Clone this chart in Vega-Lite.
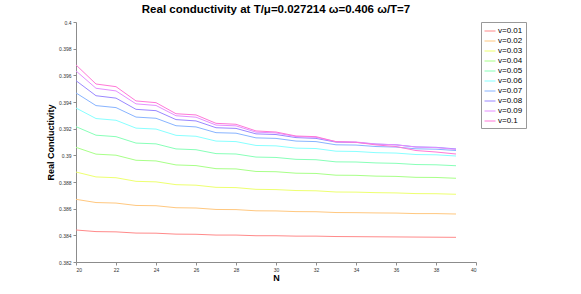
{
  "$schema": "https://vega.github.io/schema/vega-lite/v6.json",
  "width": 400,
  "height": 240,
  "autosize": {"type": "none"},
  "padding": {"left": 76, "top": 22, "right": 105, "bottom": 32},
  "background": "white",
  "config": {
    "font": "Liberation Sans",
    "view": {"stroke": null},
    "axis": {"grid": false, "domainColor": "#8c8c8c", "tickColor": "#8c8c8c", "tickSize": 3, "labelFontSize": 5, "labelColor": "#333", "titleFontWeight": "bold", "titleColor": "#000"}
  },
  "title": {"text": "Real conductivity at T/μ=0.027214 ω=0.406 ω/T=7", "fontSize": 11.5, "fontWeight": "bold", "font": "Liberation Sans", "color": "#000", "offset": 5, "anchor": "middle"},
  "data": {"values": [
    {"N":20,"v":"v=0.01","y":0.38440},{"N":21,"v":"v=0.01","y":0.38428},{"N":22,"v":"v=0.01","y":0.38426},{"N":23,"v":"v=0.01","y":0.38417},{"N":24,"v":"v=0.01","y":0.38416},{"N":25,"v":"v=0.01","y":0.38409},{"N":26,"v":"v=0.01","y":0.38408},{"N":27,"v":"v=0.01","y":0.38402},{"N":28,"v":"v=0.01","y":0.38402},{"N":29,"v":"v=0.01","y":0.38397},{"N":30,"v":"v=0.01","y":0.38397},{"N":31,"v":"v=0.01","y":0.38394},{"N":32,"v":"v=0.01","y":0.38394},{"N":33,"v":"v=0.01","y":0.38391},{"N":34,"v":"v=0.01","y":0.38390},{"N":35,"v":"v=0.01","y":0.38389},{"N":36,"v":"v=0.01","y":0.38388},{"N":37,"v":"v=0.01","y":0.38387},{"N":38,"v":"v=0.01","y":0.38386},{"N":39,"v":"v=0.01","y":0.38385},
    {"N":20,"v":"v=0.02","y":0.38670},{"N":21,"v":"v=0.02","y":0.38646},{"N":22,"v":"v=0.02","y":0.38642},{"N":23,"v":"v=0.02","y":0.38624},{"N":24,"v":"v=0.02","y":0.38622},{"N":25,"v":"v=0.02","y":0.38607},{"N":26,"v":"v=0.02","y":0.38605},{"N":27,"v":"v=0.02","y":0.38594},{"N":28,"v":"v=0.02","y":0.38593},{"N":29,"v":"v=0.02","y":0.38584},{"N":30,"v":"v=0.02","y":0.38583},{"N":31,"v":"v=0.02","y":0.38578},{"N":32,"v":"v=0.02","y":0.38577},{"N":33,"v":"v=0.02","y":0.38571},{"N":34,"v":"v=0.02","y":0.38570},{"N":35,"v":"v=0.02","y":0.38568},{"N":36,"v":"v=0.02","y":0.38567},{"N":37,"v":"v=0.02","y":0.38563},{"N":38,"v":"v=0.02","y":0.38563},{"N":39,"v":"v=0.02","y":0.38560},
    {"N":20,"v":"v=0.03","y":0.38875},{"N":21,"v":"v=0.03","y":0.38838},{"N":22,"v":"v=0.03","y":0.38832},{"N":23,"v":"v=0.03","y":0.38805},{"N":24,"v":"v=0.03","y":0.38801},{"N":25,"v":"v=0.03","y":0.38780},{"N":26,"v":"v=0.03","y":0.38776},{"N":27,"v":"v=0.03","y":0.38760},{"N":28,"v":"v=0.03","y":0.38758},{"N":29,"v":"v=0.03","y":0.38745},{"N":30,"v":"v=0.03","y":0.38743},{"N":31,"v":"v=0.03","y":0.38736},{"N":32,"v":"v=0.03","y":0.38734},{"N":33,"v":"v=0.03","y":0.38725},{"N":34,"v":"v=0.03","y":0.38724},{"N":35,"v":"v=0.03","y":0.38720},{"N":36,"v":"v=0.03","y":0.38718},{"N":37,"v":"v=0.03","y":0.38713},{"N":38,"v":"v=0.03","y":0.38712},{"N":39,"v":"v=0.03","y":0.38708},
    {"N":20,"v":"v=0.04","y":0.39060},{"N":21,"v":"v=0.04","y":0.39009},{"N":22,"v":"v=0.04","y":0.39001},{"N":23,"v":"v=0.04","y":0.38963},{"N":24,"v":"v=0.04","y":0.38958},{"N":25,"v":"v=0.04","y":0.38928},{"N":26,"v":"v=0.04","y":0.38923},{"N":27,"v":"v=0.04","y":0.38900},{"N":28,"v":"v=0.04","y":0.38898},{"N":29,"v":"v=0.04","y":0.38879},{"N":30,"v":"v=0.04","y":0.38877},{"N":31,"v":"v=0.04","y":0.38866},{"N":32,"v":"v=0.04","y":0.38864},{"N":33,"v":"v=0.04","y":0.38851},{"N":34,"v":"v=0.04","y":0.38850},{"N":35,"v":"v=0.04","y":0.38844},{"N":36,"v":"v=0.04","y":0.38842},{"N":37,"v":"v=0.04","y":0.38835},{"N":38,"v":"v=0.04","y":0.38834},{"N":39,"v":"v=0.04","y":0.38828},
    {"N":20,"v":"v=0.05","y":0.39215},{"N":21,"v":"v=0.05","y":0.39151},{"N":22,"v":"v=0.05","y":0.39140},{"N":23,"v":"v=0.05","y":0.39092},{"N":24,"v":"v=0.05","y":0.39086},{"N":25,"v":"v=0.05","y":0.39048},{"N":26,"v":"v=0.05","y":0.39042},{"N":27,"v":"v=0.05","y":0.39013},{"N":28,"v":"v=0.05","y":0.39010},{"N":29,"v":"v=0.05","y":0.38987},{"N":30,"v":"v=0.05","y":0.38984},{"N":31,"v":"v=0.05","y":0.38970},{"N":32,"v":"v=0.05","y":0.38967},{"N":33,"v":"v=0.05","y":0.38951},{"N":34,"v":"v=0.05","y":0.38950},{"N":35,"v":"v=0.05","y":0.38943},{"N":36,"v":"v=0.05","y":0.38940},{"N":37,"v":"v=0.05","y":0.38931},{"N":38,"v":"v=0.05","y":0.38929},{"N":39,"v":"v=0.05","y":0.38922},
    {"N":20,"v":"v=0.06","y":0.39355},{"N":21,"v":"v=0.06","y":0.39276},{"N":22,"v":"v=0.06","y":0.39263},{"N":23,"v":"v=0.06","y":0.39204},{"N":24,"v":"v=0.06","y":0.39197},{"N":25,"v":"v=0.06","y":0.39150},{"N":26,"v":"v=0.06","y":0.39143},{"N":27,"v":"v=0.06","y":0.39107},{"N":28,"v":"v=0.06","y":0.39103},{"N":29,"v":"v=0.06","y":0.39074},{"N":30,"v":"v=0.06","y":0.39071},{"N":31,"v":"v=0.06","y":0.39054},{"N":32,"v":"v=0.06","y":0.39051},{"N":33,"v":"v=0.06","y":0.39031},{"N":34,"v":"v=0.06","y":0.39029},{"N":35,"v":"v=0.06","y":0.39020},{"N":36,"v":"v=0.06","y":0.39017},{"N":37,"v":"v=0.06","y":0.39006},{"N":38,"v":"v=0.06","y":0.39004},{"N":39,"v":"v=0.06","y":0.38995},
    {"N":20,"v":"v=0.07","y":0.39468},{"N":21,"v":"v=0.07","y":0.39373},{"N":22,"v":"v=0.07","y":0.39358},{"N":23,"v":"v=0.07","y":0.39287},{"N":24,"v":"v=0.07","y":0.39278},{"N":25,"v":"v=0.07","y":0.39222},{"N":26,"v":"v=0.07","y":0.39213},{"N":27,"v":"v=0.07","y":0.39170},{"N":28,"v":"v=0.07","y":0.39166},{"N":29,"v":"v=0.07","y":0.39131},{"N":30,"v":"v=0.07","y":0.39127},{"N":31,"v":"v=0.07","y":0.39107},{"N":32,"v":"v=0.07","y":0.39103},{"N":33,"v":"v=0.07","y":0.39079},{"N":34,"v":"v=0.07","y":0.39077},{"N":35,"v":"v=0.07","y":0.39066},{"N":36,"v":"v=0.07","y":0.39062},{"N":37,"v":"v=0.07","y":0.39049},{"N":38,"v":"v=0.07","y":0.39046},{"N":39,"v":"v=0.07","y":0.39036},
    {"N":20,"v":"v=0.08","y":0.39560},{"N":21,"v":"v=0.08","y":0.39447},{"N":22,"v":"v=0.08","y":0.39429},{"N":23,"v":"v=0.08","y":0.39345},{"N":24,"v":"v=0.08","y":0.39335},{"N":25,"v":"v=0.08","y":0.39268},{"N":26,"v":"v=0.08","y":0.39258},{"N":27,"v":"v=0.08","y":0.39207},{"N":28,"v":"v=0.08","y":0.39202},{"N":29,"v":"v=0.08","y":0.39161},{"N":30,"v":"v=0.08","y":0.39156},{"N":31,"v":"v=0.08","y":0.39133},{"N":32,"v":"v=0.08","y":0.39127},{"N":33,"v":"v=0.08","y":0.39099},{"N":34,"v":"v=0.08","y":0.39097},{"N":35,"v":"v=0.08","y":0.39084},{"N":36,"v":"v=0.08","y":0.39079},{"N":37,"v":"v=0.08","y":0.39063},{"N":38,"v":"v=0.08","y":0.39060},{"N":39,"v":"v=0.08","y":0.39048},
    {"N":20,"v":"v=0.09","y":0.39633},{"N":21,"v":"v=0.09","y":0.39503},{"N":22,"v":"v=0.09","y":0.39483},{"N":23,"v":"v=0.09","y":0.39386},{"N":24,"v":"v=0.09","y":0.39374},{"N":25,"v":"v=0.09","y":0.39297},{"N":26,"v":"v=0.09","y":0.39286},{"N":27,"v":"v=0.09","y":0.39227},{"N":28,"v":"v=0.09","y":0.39221},{"N":29,"v":"v=0.09","y":0.39174},{"N":30,"v":"v=0.09","y":0.39168},{"N":31,"v":"v=0.09","y":0.39141},{"N":32,"v":"v=0.09","y":0.39135},{"N":33,"v":"v=0.09","y":0.39103},{"N":34,"v":"v=0.09","y":0.39100},{"N":35,"v":"v=0.09","y":0.39085},{"N":36,"v":"v=0.09","y":0.39079},{"N":37,"v":"v=0.09","y":0.39062},{"N":38,"v":"v=0.09","y":0.39058},{"N":39,"v":"v=0.09","y":0.39044},
    {"N":20,"v":"v=0.1","y":0.39678},{"N":21,"v":"v=0.1","y":0.39535},{"N":22,"v":"v=0.1","y":0.39515},{"N":23,"v":"v=0.1","y":0.39408},{"N":24,"v":"v=0.1","y":0.39395},{"N":25,"v":"v=0.1","y":0.39312},{"N":26,"v":"v=0.1","y":0.39303},{"N":27,"v":"v=0.1","y":0.39240},{"N":28,"v":"v=0.1","y":0.39233},{"N":29,"v":"v=0.1","y":0.39183},{"N":30,"v":"v=0.1","y":0.39175},{"N":31,"v":"v=0.1","y":0.39145},{"N":32,"v":"v=0.1","y":0.39140},{"N":33,"v":"v=0.1","y":0.39102},{"N":34,"v":"v=0.1","y":0.39098},{"N":35,"v":"v=0.1","y":0.39078},{"N":36,"v":"v=0.1","y":0.39066},{"N":37,"v":"v=0.1","y":0.39036},{"N":38,"v":"v=0.1","y":0.39025},{"N":39,"v":"v=0.1","y":0.39010}
  ]},
  "mark": {"type": "line", "strokeWidth": 1, "clip": false},
  "encoding": {
    "x": {"field": "N", "type": "quantitative", "scale": {"domain": [20, 40], "nice": false, "zero": false},
          "axis": {"values": [20,22,24,26,28,30,32,34,36,38,40], "title": "N", "titleFontSize": 9, "titlePadding": 1, "labelPadding": 2}},
    "y": {"field": "y", "type": "quantitative", "scale": {"domain": [0.382, 0.4], "nice": false, "zero": false},
          "axis": {"values": [0.382,0.384,0.386,0.388,0.39,0.392,0.394,0.396,0.398,0.4], "format": "~g", "title": "Real Conductivity", "titleFontSize": 9, "titlePadding": 3, "labelPadding": 2}},
    "color": {"field": "v", "type": "nominal",
              "scale": {"domain": ["v=0.01","v=0.02","v=0.03","v=0.04","v=0.05","v=0.06","v=0.07","v=0.08","v=0.09","v=0.1"],
                        "range": ["#ff8a8a","#ffc880","#eeff70","#a8ff88","#88ffb8","#88ffff","#88b4ff","#9a88ff","#e490ff","#ff78d8"]},
              "legend": {"title": null, "orient": "none", "legendX": 405, "legendY": 0, "symbolType": "stroke", "symbolSize": 121, "symbolStrokeWidth": 1,
                         "labelFontSize": 8, "labelColor": "#000", "rowPadding": 0, "padding": 3, "strokeColor": "#999", "fillColor": "white", "labelOffset": 2}}
  }
}
